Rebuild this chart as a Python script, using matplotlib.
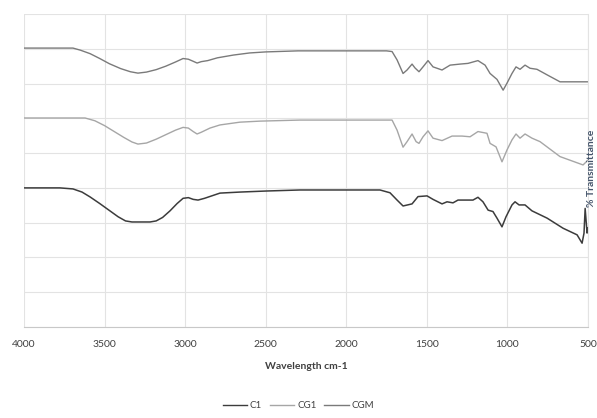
import matplotlib
matplotlib.use("Agg")
import matplotlib.pyplot as plt
import numpy as np

# ---- data (wavenumber cm-1, % transmittance) ----
cgm_wn = [4000, 3696, 3650, 3590, 3530, 3470, 3400, 3340, 3293, 3240, 3180, 3120, 3060, 3013,
          2980, 2950, 2926, 2900, 2860, 2800, 2700, 2600, 2500, 2300, 1750, 1716, 1685, 1648,
          1623, 1592, 1574, 1549, 1524, 1493, 1462, 1406, 1356, 1294, 1245, 1183, 1139, 1108,
          1065, 1027, 1003, 972, 947, 922, 891, 860, 817, 754, 674, 500]
cgm_t = [80.2, 80.2, 79.6, 78.6, 77.2, 75.7, 74.3, 73.4, 73.0, 73.3, 74.0, 75.0, 76.2, 77.2,
         77.0, 76.4, 75.9, 76.3, 76.6, 77.4, 78.2, 78.8, 79.1, 79.4, 79.4, 79.2, 76.8, 72.9,
         73.9, 75.6, 74.5, 73.4, 74.8, 76.6, 74.8, 73.9, 75.3, 75.6, 75.8, 76.6, 75.3, 72.9,
         71.2, 68.1, 70.1, 72.9, 74.8, 74.1, 75.3, 74.4, 74.1, 72.5, 70.5, 70.5]

cg1_wn = [4000, 3621, 3560, 3500, 3440, 3380, 3330, 3293, 3240, 3180, 3120, 3060, 3013, 2980,
          2950, 2926, 2900, 2846, 2784, 2660, 2535, 2287, 1760, 1716, 1685, 1648, 1623, 1592,
          1567, 1549, 1524, 1493, 1462, 1406, 1344, 1282, 1232, 1183, 1127, 1108, 1071, 1034,
          1003, 972, 947, 922, 891, 848, 798, 674, 531, 500]
cg1_t = [60.1, 60.1, 59.3, 57.9, 56.2, 54.5, 53.2, 52.6, 52.9, 54.0, 55.3, 56.6, 57.4, 57.2,
         56.2, 55.5, 56.0, 57.2, 58.1, 58.9, 59.2, 59.5, 59.5, 59.5, 56.6, 51.7, 53.3, 55.5,
         53.3, 52.8, 54.7, 56.4, 54.3, 53.6, 54.9, 54.9, 54.7, 56.2, 55.7, 52.8, 51.8, 47.5,
         50.9, 53.8, 55.5, 54.3, 55.5, 54.3, 53.3, 49.0, 46.6, 48.0]

c1_wn = [4000, 3777, 3696, 3640, 3590, 3530, 3470, 3416, 3370, 3330, 3218, 3180, 3140, 3094,
         3050, 3013, 2980, 2950, 2920, 2880, 2784, 2660, 2498, 2287, 1791, 1729, 1685, 1648,
         1592, 1555, 1499, 1462, 1406, 1375, 1338, 1307, 1214, 1183, 1152, 1120, 1090, 1065,
         1034, 1009, 972, 953, 928, 891, 848, 754, 655, 568, 537, 525, 518, 506, 500]
c1_t = [40.0, 40.0, 39.7, 38.8, 37.4, 35.5, 33.5, 31.7, 30.5, 30.2, 30.2, 30.5, 31.5, 33.4,
        35.5, 37.0, 37.2, 36.7, 36.5, 37.0, 38.5, 38.8, 39.1, 39.4, 39.4, 38.6, 36.5, 34.8,
        35.4, 37.5, 37.7, 36.7, 35.4, 36.0, 35.7, 36.5, 36.5, 37.3, 36.0, 33.6, 33.2, 31.3,
        28.8, 31.7, 35.1, 36.0, 35.1, 35.1, 33.4, 31.3, 28.4, 26.5, 24.1, 27.0, 34.1, 27.0, 28.5]

x_ticks = [4000, 3500, 3000, 2500, 2000, 1500, 1000, 500]
series_names = ["C1", "CG1", "CGM"]
series_colors = ["#3c3c3c", "#a6a6a6", "#7a7a7a"]

fig = plt.figure(figsize=(5.97, 4.18), dpi=100)
ax = fig.add_axes([0.0402, 0.2177, 0.9448, 0.7488])

ax.plot(c1_wn, c1_t, color=series_colors[0], lw=1.1, label=series_names[0])
ax.plot(cg1_wn, cg1_t, color=series_colors[1], lw=1.0, label=series_names[1])
ax.plot(cgm_wn, cgm_t, color=series_colors[2], lw=1.0, label=series_names[2])

ax.set_xlim(4000, 500)
ax.set_ylim(0, 90)
ax.set_xticks(x_ticks)
ax.set_xticklabels([str(t) for t in x_ticks], fontsize=7.5, color="#404040", family="Lato")
ax.set_yticks(np.arange(0, 91, 10))
ax.set_yticklabels([])
ax.tick_params(length=0, pad=9)
ax.grid(True, color="#e3e3e3", lw=0.8)
ax.set_axisbelow(True)
for s in ["top", "left"]:
    ax.spines[s].set_visible(False)
ax.spines["bottom"].set_color("#c8c8c8")
ax.spines["right"].set_color("#e3e3e3")

ax.set_xlabel("Wavelength cm-1", fontsize=7.5, fontweight="bold", color="#404040",
              family="Lato", labelpad=10)

fig.text(0.990, 0.598, "% Transmittance", rotation=90, ha="center", va="center",
         fontsize=7.5, fontweight="bold", color="#44546a", family="Lato")

leg = fig.legend(loc="center", bbox_to_anchor=(0.5, 0.03), ncol=3, frameon=False,
                 handlelength=2.5, handletextpad=0.3, columnspacing=0.8,
                 prop={"family": "Lato", "size": 7})
for t in leg.get_texts():
    t.set_color("#404040")
for h in leg.get_lines():
    h.set_linewidth(1.0)

fig.savefig("out.png", dpi=100)
